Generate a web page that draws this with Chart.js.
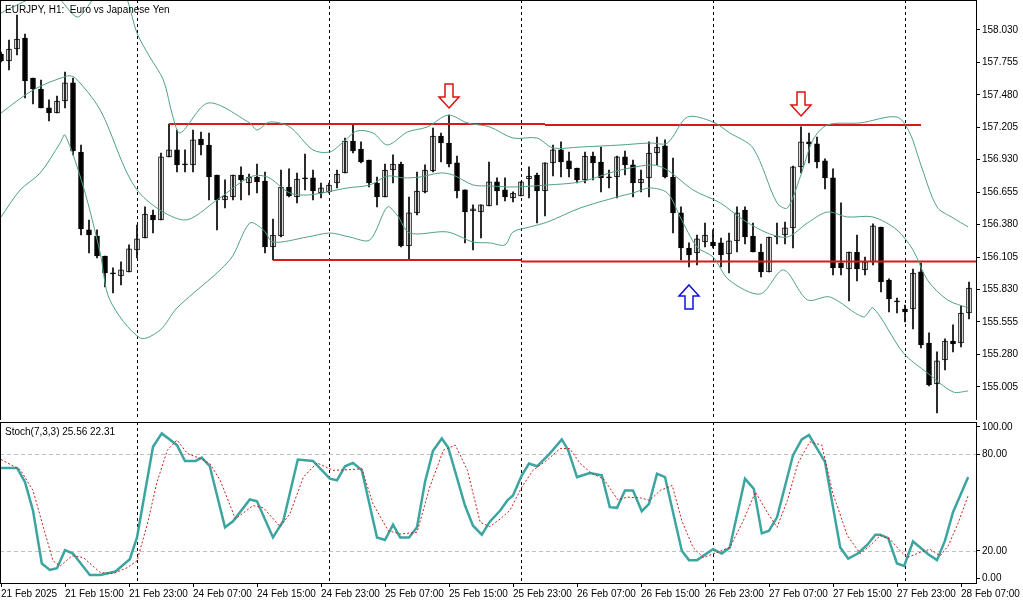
<!DOCTYPE html>
<html>
<head>
<meta charset="utf-8">
<script src="https://cdn.jsdelivr.net/npm/chart.js@4.4.1/dist/chart.umd.min.js"></script>
<style>
  html, body { margin: 0; padding: 0; background: #fff; }
  #wrap { position: relative; width: 1023px; height: 603px; }
  #main { position: absolute; left: 0; top: 0; }
  #stoch { position: absolute; left: 0; top: 421px; }
</style>
</head>
<body>
<div id="wrap">
  <canvas id="main" width="1023" height="420"></canvas>
  <canvas id="stoch" width="1023" height="182"></canvas>
</div>
<script>
// EURJPY H1, 21 Feb 07:00 -> 28 Feb 08:00 (bar index 0..121)
const opens = [157.826,157.767,157.869,157.962,157.623,157.530,157.369,157.326,157.428,157.581,
  156.996,156.335,156.284,156.114,155.970,155.945,155.979,156.165,156.267,156.462,
  156.419,156.954,157.013,156.894,156.886,157.106,157.055,156.801,156.589,156.614,
  156.801,156.733,156.784,156.750,156.191,156.284,156.699,156.614,156.776,156.776,
  156.648,156.657,156.733,156.818,157.089,157.021,156.928,156.733,156.614,156.843,
  156.894,156.199,156.479,156.657,156.835,157.131,157.072,156.903,156.674,156.496,
  156.487,156.538,156.742,156.674,156.606,156.623,156.767,156.801,156.665,156.903,
  157.013,156.920,156.860,156.759,156.962,156.911,156.784,156.784,156.954,156.886,
  156.733,156.776,156.987,157.047,156.784,156.479,156.182,156.140,156.233,156.233,
  156.225,156.131,156.242,156.504,156.284,156.148,155.979,156.284,156.292,156.352,
  156.869,157.081,157.064,156.920,156.776,156.055,156.004,156.148,155.996,156.064,
  156.360,155.911,155.733,155.665,155.665,155.979,155.377,155.030,155.233,155.394,
  155.377,155.631];
const highs = [157.843,157.945,158.157,157.996,157.623,157.606,157.437,157.470,157.674,157.623,
  157.055,156.419,156.335,156.114,156.013,156.064,156.208,156.377,156.530,156.504,
  156.987,157.233,157.182,157.013,157.182,157.165,157.157,156.801,156.759,156.801,
  156.869,156.809,156.894,156.826,156.428,156.843,156.852,156.818,156.979,156.843,
  156.733,156.733,156.843,157.114,157.225,157.081,156.928,156.784,156.894,156.971,
  156.911,156.614,156.826,156.886,157.199,157.157,157.309,156.962,156.674,156.547,
  156.547,156.911,156.776,156.776,156.657,156.742,156.869,156.818,156.903,157.055,
  157.081,156.996,156.860,156.996,156.996,157.038,156.843,156.962,157.004,156.928,
  156.843,157.081,157.123,157.098,156.945,156.530,156.225,156.292,156.394,156.335,
  156.267,156.309,156.530,156.530,156.394,156.216,156.275,156.394,156.402,156.877,
  157.208,157.157,157.123,156.937,156.852,156.564,156.148,156.292,156.106,156.386,
  156.360,155.920,155.758,155.699,156.004,156.055,155.462,155.301,155.411,155.530,
  155.691,155.894];
const lows = [157.759,157.691,157.818,157.453,157.403,157.369,157.259,157.326,157.369,156.971,
  156.292,156.140,156.097,155.852,155.801,155.869,155.979,156.097,156.267,156.309,
  156.419,156.954,156.826,156.826,156.826,156.971,156.589,156.335,156.521,156.589,
  156.589,156.631,156.648,156.140,156.080,156.275,156.614,156.564,156.674,156.589,
  156.606,156.648,156.691,156.818,156.987,156.903,156.699,156.530,156.614,156.733,
  156.191,156.080,156.462,156.648,156.826,156.911,156.869,156.606,156.225,156.165,
  156.267,156.538,156.547,156.581,156.572,156.623,156.606,156.394,156.453,156.792,
  156.784,156.784,156.733,156.733,156.759,156.657,156.691,156.606,156.801,156.614,
  156.657,156.614,156.886,156.776,156.309,156.080,156.021,156.038,156.191,156.182,
  156.021,155.970,156.148,156.216,156.148,155.936,155.979,156.216,156.216,156.182,
  156.818,156.903,156.860,156.682,155.953,155.953,155.733,155.903,155.953,156.038,
  155.809,155.640,155.631,155.555,155.496,155.335,155.013,154.784,155.148,155.301,
  155.343,155.581];
const closes = [157.767,157.869,157.953,157.598,157.530,157.369,157.326,157.428,157.581,157.004,
  156.343,156.292,156.114,155.970,155.962,155.996,156.174,156.259,156.470,156.419,
  156.954,157.013,156.886,156.886,157.098,157.055,156.784,156.589,156.623,156.801,
  156.759,156.784,156.742,156.191,156.292,156.699,156.623,156.767,156.767,156.665,
  156.691,156.716,156.809,157.089,157.004,156.911,156.733,156.614,156.843,156.894,
  156.199,156.479,156.665,156.843,157.131,157.072,156.894,156.665,156.487,156.513,
  156.547,156.742,156.665,156.614,156.648,156.742,156.792,156.665,156.903,157.013,
  156.911,156.852,156.759,156.962,156.903,156.776,156.776,156.954,156.886,156.733,
  156.767,156.987,157.038,156.784,156.479,156.182,156.123,156.259,156.292,156.199,
  156.123,156.242,156.479,156.275,156.148,155.979,156.275,156.275,156.352,156.869,
  157.081,157.064,156.911,156.776,156.013,156.013,156.148,156.004,156.064,156.369,
  155.894,155.750,155.725,155.640,155.970,155.360,155.021,155.225,155.394,155.369,
  155.631,155.843];

// Bollinger bands: [bar index, price]
const bbUpper = [[0,158.174],[2,158.242],[5,158.326],[7,158.309],[9.5,158.140],[11,158.242],[13,158.454],
  [15,158.369],[15.8,158.284],[17,158.004],[18.6,157.801],[20.3,157.606],[21.5,157.292],[22.4,157.157],
  [25.9,157.411],[31.1,157.242],[32,157.182],[33.6,157.250],[36.1,157.208],[39,157.013],[41.1,156.996],
  [42.8,157.081],[44.5,157.174],[46.5,157.157],[48.3,157.055],[50.8,157.165],[53.3,157.208],[55.9,157.309],
  [58.3,157.242],[61.1,157.208],[64,157.114],[67,157.114],[69,157.030],[72.4,157.038],[77.4,157.055],
  [81.1,157.072],[83.3,157.072],[85.8,157.292],[89,157.250],[91.1,157.157],[94,157.030],[97,156.564],
  [98.3,156.521],[99.9,156.784],[101.5,157.098],[103.3,157.225],[107.4,157.242],[112,157.292],
  [113.6,157.157],[114.9,156.903],[117,156.530],[119,156.437],[120.9,156.360]];
const bbMiddle = [[0,157.326],[4,157.521],[8.3,157.640],[9.3,157.623],[12.4,157.352],[17,156.674],
  [22.8,156.419],[27,156.589],[31.1,156.784],[33.3,156.784],[36.1,156.648],[38.3,156.631],[40.8,156.657],
  [43.3,156.691],[46.1,156.716],[48.3,156.792],[50.3,156.776],[52.4,156.784],[54.9,156.818],[56.5,156.801],
  [59,156.716],[61.1,156.708],[64,156.699],[68.3,156.716],[72.4,156.742],[76.5,156.826],[78.6,156.860],
  [81.5,156.886],[83.3,156.843],[86.5,156.674],[89.9,156.564],[92.8,156.419],[95.8,156.309],[98.3,156.275],
  [100.8,156.394],[103.3,156.487],[105.8,156.445],[109,156.445],[112,156.335],[114,156.165],[115.8,155.911],
  [118.3,155.742],[120.9,155.674]];
const bbLower = [[0,156.445],[2.4,156.674],[4.9,156.818],[7.4,157.072],[8,157.140],[10.3,156.699],
  [12.4,156.140],[13.6,155.742],[17.4,155.419],[19.9,155.487],[22,155.674],[28.6,156.080],[31.1,156.394],
  [32.8,156.335],[34,156.233],[38.3,156.275],[41.1,156.309],[43.6,156.275],[46.1,156.250],[48.3,156.530],
  [49.5,156.462],[51.1,156.309],[55.8,156.318],[59,156.233],[61.1,156.225],[63,156.208],[64,156.318],
  [66.1,156.360],[68.3,156.402],[72.4,156.521],[77,156.614],[79,156.648],[81.1,156.691],[83.3,156.648],
  [84.9,156.445],[87,156.191],[89,156.106],[91,155.911],[94.9,155.792],[97.8,155.996],[100.8,155.742],
  [103.6,155.767],[107.8,155.597],[109,155.674],[112.8,155.292],[115.8,155.123],[119,154.962],[120.9,154.970]];

// horizontal levels: [from index, to index, price]
const resistance = [[21,68,157.233],[68,115,157.225]];
const support = [[34,65,156.080],[65,121.9,156.068]];
// arrows: [bar index, tip price, direction, colour]
const arrows = [[56,157.369,'down','#e01010'],[100,157.301,'down','#e01010'],[86,155.869,'up','#1010e0']];

// Stochastic (7,3,3): [bar index, value]
const stochK = [[0,71.5],[2,71.5],[3,62.7],[4,45],[5.1,12.1],[6.1,8.1],[7,9.2],[8,20.4],[9,18.3],[11.1,5],
  [12.4,5],[14.3,7.1],[16.1,14.8],[17,28.3],[18,56.5],[19,84.6],[20.1,92.9],[22,85.6],[23,75.8],[24.3,75.8],
  [25.1,77.9],[26.1,72.5],[28,34.6],[29,38.3],[31.1,51.9],[32,50.8],[34,28.3],[35.3,38.8],[37.1,76.7],
  [39,75.8],[41.1,64.8],[42,63.8],[43,72.5],[44,74.6],[45.1,70],[47,28.3],[48,26.7],[49,36.3],[49.9,28.3],
  [51,28.3],[52,34.6],[53,62.7],[54,82.1],[55.1,89.8],[55.9,84.2],[58,48.1],[59,35.6],[60.1,30],[61.1,38.1],
  [62.4,45],[63.3,51.3],[64,54.4],[65.1,66.9],[66,74.2],[67,72.5],[68.6,80.4],[70.1,89.2],[70.9,82.5],
  [72,65.8],[73.6,68.3],[75.1,66.9],[76.1,47.1],[77,46.7],[78,57.5],[79,57.5],[80.1,44.6],[81,49.2],
  [82,67.9],[83,65.8],[85.1,20],[86,14.2],[87,14.2],[89,21],[90.1,18.3],[91.1,22.1],[93,64.8],[94.1,58.5],
  [95.1,30.8],[96,32.5],[97,40.8],[99,79.4],[100.1,89.2],[101,91.9],[103,75.2],[104.9,22.1],[105.9,15.2],
  [107.1,18.3],[108.3,23.8],[109.3,30],[109.9,30],[110.9,27.9],[112,12.1],[112.9,10.6],[114,25.8],
  [115.9,17.9],[117,14.2],[118,26.3],[119,44],[120.9,65.8]];
const stochD = [[0,76.7],[2.4,70.4],[4,57.5],[5.3,34.6],[6.5,13.8],[7.4,10.6],[8.9,16.9],[10.3,15.8],
  [12.4,6.5],[14,5.8],[15.8,9.6],[17,13.8],[18.3,36.7],[19.5,62.7],[20.8,82.5],[22,88.8],[23.3,80.4],
  [24.9,77.3],[26.1,74.2],[27.4,63.8],[29.3,39.8],[31.5,48.1],[32.8,46.7],[34.9,35],[36.1,42.9],[37.8,65.8],
  [39.5,74.6],[41.5,70],[43.6,70.4],[45.1,71],[46.5,49.2],[48.4,32.5],[49.9,30.4],[52,31.5],[53.6,59.6],
  [55.3,82.5],[56.8,85.6],[58.3,70],[59.9,37.7],[61.1,35],[62.4,39.8],[63.6,45],[65.1,59.6],[66.5,70],
  [68.25,76.3],[69.9,83.5],[71.1,83.5],[72.4,74.2],[73.9,67.9],[75.3,64.8],[77.1,51.7],[78.3,53.3],
  [79.9,52.9],[81.1,51.3],[82.4,57.5],[83.9,60.6],[85.1,38.8],[86.5,22.1],[87.8,15.8],[89.5,19],[91.1,22.1],
  [92.8,38.8],[94.3,56.5],[95.8,43.8],[97,34.6],[98.3,51.3],[99.6,74.2],[101.1,87.7],[102.6,85.6],
  [104,55.4],[105.8,29.4],[107.4,18.3],[108.6,23.1],[109.9,29.4],[111.1,27.3],[112.4,20],[113.3,15.8],
  [114.9,19],[116.1,21],[117.4,16.9],[118.4,23.1],[119.6,36.7],[120.9,54.4]];

const priceTicks = [158.030,157.755,157.480,157.205,156.930,156.655,156.380,156.105,155.830,155.555,155.280,155.005];
// stochastic scale labels; the terminal pulls the 0 and 100 labels slightly inside the panel
const stochTicks = [3,20,80,97];
const stochTickLabels = ['0.00','20.00','80.00','100.00'];
const timeTickIdx = [0,8,16,24,32,40,48,56,64,72,80,88,96,104,112,120];
const timeTickLabels = ['21 Feb 2025','21 Feb 15:00','21 Feb 23:00','24 Feb 07:00','24 Feb 15:00','24 Feb 23:00',
  '25 Feb 07:00','25 Feb 15:00','25 Feb 23:00','26 Feb 07:00','26 Feb 15:00','26 Feb 23:00',
  '27 Feb 07:00','27 Feb 15:00','27 Feb 23:00','28 Feb 07:00'];
const daySeparators = [17,41,65,89,113];

const FONT = { family: 'Liberation Sans, Arial, sans-serif', size: 10 };
const X_MIN = -0.125, X_MAX = 121.875;

function toXY(pairs) { return pairs.map(p => ({ x: p[0], y: p[1] })); }

// frame, day separators and extra drawing on top
const framePlugin = {
  id: 'frame',
  beforeDatasetsDraw(chart, args, opts) {
    const { ctx, chartArea: a, scales } = chart;
    ctx.save();
    ctx.strokeStyle = '#000';
    ctx.lineWidth = 1;
    ctx.setLineDash([3, 3]);
    daySeparators.forEach(i => {
      const x = Math.round(scales.x.getPixelForValue(i)) + 0.5;
      ctx.beginPath(); ctx.moveTo(x, a.top); ctx.lineTo(x, a.bottom); ctx.stroke();
    });
    if (opts.levels) {
      ctx.strokeStyle = '#c0c0c0';
      ctx.setLineDash([4, 3]);
      opts.levels.forEach(v => {
        const y = Math.round(scales.y.getPixelForValue(v)) + 0.5;
        ctx.beginPath(); ctx.moveTo(a.left, y); ctx.lineTo(a.right, y); ctx.stroke();
      });
    }
    ctx.restore();
  },
  afterDraw(chart, args, opts) {
    const { ctx, chartArea: a, scales } = chart;
    ctx.save();
    ctx.strokeStyle = '#000';
    ctx.lineWidth = 1;
    ctx.strokeRect(a.left + 0.5, a.top + 0.5, a.right - a.left, a.bottom - a.top);
    if (opts.arrows) {
      opts.arrows.forEach(([i, p, dir, col]) => {
        const x = scales.x.getPixelForValue(i);
        const tip = scales.y.getPixelForValue(p);
        const s = dir === 'down' ? -1 : 1;
        const pts = [[0, 0], [10, 11], [4, 11], [4, 24], [-4, 24], [-4, 11], [-10, 11]];
        ctx.beginPath();
        pts.forEach(([dx, dy], k) => {
          const px = x + dx, py = tip + s * dy;
          k ? ctx.lineTo(px, py) : ctx.moveTo(px, py);
        });
        ctx.closePath();
        ctx.fillStyle = '#fff';
        ctx.fill();
        ctx.strokeStyle = col;
        ctx.lineWidth = 1.5;
        ctx.stroke();
      });
    }
    ctx.fillStyle = '#000';
    ctx.font = '10px ' + FONT.family;
    ctx.textBaseline = 'top';
    ctx.fillText(opts.title, 5, a.top + 5);
    ctx.restore();
  }
};

function rightAxis(min, max, ticks, fmt) {
  return {
    type: 'linear', position: 'right', min, max,
    afterBuildTicks: s => { s.ticks = ticks.map(v => ({ value: v })); },
    afterFit: s => { s.width = 47; s.paddingTop = 0; s.paddingBottom = 0; },
    grid: { drawOnChartArea: false, drawTicks: true, tickLength: 4, color: '#000' },
    border: { display: true, color: '#000' },
    ticks: { color: '#000', font: FONT, padding: 2, crossAlign: 'near', callback: fmt }
  };
}

const bodyColors = opens.map((o, i) => closes[i] >= o ? '#ffffff' : '#000000');
const bandStyle = { type: 'line', borderColor: 'rgb(80,160,140)', borderWidth: 1, pointRadius: 0, tension: 0.3 };
const levelStyle = { type: 'line', borderColor: 'rgb(215,25,25)', borderWidth: 2, pointRadius: 0 };

new Chart(document.getElementById('main'), {
  data: {
    datasets: [
      { ...bandStyle, data: toXY(bbUpper) },
      { ...bandStyle, data: toXY(bbMiddle) },
      { ...bandStyle, data: toXY(bbLower) },
      ...resistance.concat(support).map(([a, b, p]) => ({ ...levelStyle, data: [{ x: a, y: p }, { x: b, y: p }] })),
      { type: 'bar', data: lows.map((l, i) => ({ x: i, y: [l, highs[i]] })), backgroundColor: '#000',
        barThickness: 1, grouped: false, minBarLength: 1 },
      { type: 'bar', data: opens.map((o, i) => ({ x: i, y: [o, closes[i]] })), backgroundColor: bodyColors,
        borderColor: '#000', borderWidth: 1, borderSkipped: false, barThickness: 5, grouped: false, minBarLength: 1 }
    ]
  },
  options: {
    responsive: false, animation: false,
    layout: { padding: { left: 0, top: 0, right: 0, bottom: 0 } },
    plugins: {
      legend: { display: false }, tooltip: { enabled: false },
      frame: { title: 'EURJPY, H1:  Euro vs Japanese Yen', arrows }
    },
    scales: {
      x: { type: 'linear', min: X_MIN, max: X_MAX, display: false, offset: false },
      y: rightAxis(154.724, 158.284, priceTicks, v => v.toFixed(3))
    }
  },
  plugins: [framePlugin]
});

new Chart(document.getElementById('stoch'), {
  type: 'line',
  data: {
    datasets: [
      { data: toXY(stochD), borderColor: 'rgb(200,30,30)', borderWidth: 1, borderDash: [2, 2], pointRadius: 0 },
      { data: toXY(stochK), borderColor: 'rgb(60,165,160)', borderWidth: 2.5, pointRadius: 0 }
    ]
  },
  options: {
    responsive: false, animation: false,
    layout: { padding: { left: 0, top: 1, right: 0, bottom: 0 } },
    plugins: {
      legend: { display: false }, tooltip: { enabled: false },
      frame: { title: 'Stoch(7,3,3) 25.56 22.31', levels: [20, 80] }
    },
    scales: {
      x: {
        type: 'linear', min: X_MIN, max: X_MAX,
        afterBuildTicks: s => { s.ticks = timeTickIdx.map(v => ({ value: v })); },
        afterFit: s => { s.height = 20; s.paddingLeft = 0; s.paddingRight = 0; },
        grid: { drawOnChartArea: false, tickLength: 4, color: '#000' },
        border: { display: true, color: '#000' },
        ticks: { color: '#000', font: FONT, padding: 1, align: 'start', maxRotation: 0, autoSkip: false,
          callback: (v) => timeTickLabels[timeTickIdx.indexOf(v)] }
      },
      y: rightAxis(0, 100, stochTicks, v => stochTickLabels[stochTicks.indexOf(v)])
    }
  },
  plugins: [framePlugin]
});
</script>
</body>
</html>
